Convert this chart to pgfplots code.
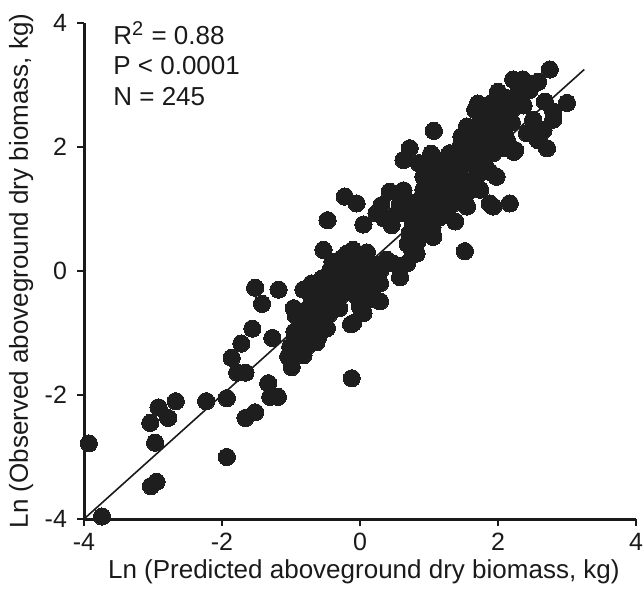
\documentclass[border=0pt]{standalone}
\usepackage{fontspec}
\setmainfont{Liberation Sans}
\usepackage{pgfplots}
\pgfplotsset{compat=1.18}
\usetikzlibrary{calc}
\definecolor{dot}{HTML}{1E1E1E}
\definecolor{ax}{HTML}{1A1A1A}
\begin{document}
\begin{tikzpicture}
\begin{axis}[
  scale only axis, width=276pt, height=248pt,
  xmin=-4, xmax=4, ymin=-4, ymax=4,
  clip=false,
  axis lines=left,
  axis line style={-, line width=1.5pt, color=ax},
  xtick={-4,-2,0,2,4}, ytick={-4,-2,0,2,4},
  xticklabels={-4,-2,0,2,4}, yticklabels={-4,-2,0,2,4},
  tick align=outside, major tick length=3.5pt,
  tick style={line width=1.3pt, color=ax},
  ticklabel style={font=\fontsize{12.5}{14}\selectfont, text=ax},
  yticklabel style={xshift=-1.5pt},
  label style={font=\fontsize{13}{15}\selectfont, text=ax},
  xlabel={Ln (Predicted aboveground dry biomass, kg)},
  ylabel={Ln (Observed aboveground dry biomass, kg)},
  xlabel style={at={(axis description cs:0.507,-0.1069)}, anchor=center},
  ylabel style={at={(axis description cs:-0.114,0.5)}, anchor=center},
]
\addplot[no marks, line width=0.8pt, color=ax] coordinates {(-4,-4) (3.25,3.25)};
\addplot[only marks, mark=*, mark size=4.3pt, color=dot, mark options={fill=dot, draw=dot, line width=0pt}] coordinates {
(-3.93,-2.78) (-3.74,-3.96) (-3.03,-3.47) (-2.95,-3.40) (-2.97,-2.77) (-3.04,-2.45)
(-2.92,-2.20) (-2.78,-2.37) (-2.67,-2.10) (-2.23,-2.10) (-1.93,-2.05) (-1.93,-3.00)
(-1.86,-1.40) (-1.72,-1.17) (-1.78,-1.64) (-1.66,-1.64) (-1.66,-2.37) (-1.52,-2.28)
(-1.56,-0.93) (-1.52,-0.27) (-1.42,-0.53) (-1.33,-1.81) (-1.30,-2.03) (-1.19,-2.03)
(-1.27,-1.08) (-1.18,-0.30)
(-1.04,-1.38) (-0.99,-1.55) (-1.01,-1.22) (-0.95,-0.98) (-0.93,-0.72) (-0.96,-0.60)
(-0.87,-1.27) (-0.82,-1.36) (-0.80,-1.06) (-0.82,-0.30) (-0.78,-0.63) (-0.74,-0.90)
(-0.72,-0.78) (-0.63,-1.15) (-0.63,-0.63) (-0.60,-1.06) (-0.58,-0.25) (-0.55,-0.12)
(-0.53,-0.52) (-0.51,-0.74) (-0.48,-0.92) (-0.46,-0.55) (-0.53,0.34) (-0.47,0.82)
(-0.43,0.02) (-0.43,-0.33) (-0.39,-0.52) (-0.34,-0.15) (-0.29,0.18) (-0.29,-0.41)
(-0.24,-0.09) (-0.22,1.20) (-0.19,0.28) (-0.19,-0.31) (-0.14,-0.28) (-0.13,-0.86)
(-0.12,-1.73) (-0.10,0.34) (-0.10,-0.84) (-0.05,1.09) (-0.05,-0.41) (0.00,-0.58)
(0.05,-0.68) (0.05,0.23) (0.05,0.75) (0.04,-0.38) (0.10,-0.09) (0.17,-0.25)
(0.24,0.93) (0.29,-0.20) (0.29,-0.49) (0.31,1.06) (0.30,0.02) (0.39,0.18)
(0.43,1.28) (0.46,0.74) (0.48,0.12) (0.58,-0.10) (0.58,1.09)
(0.63,1.30) (0.63,1.79) (0.63,0.93) (0.63,1.15) (0.68,0.12) (0.69,0.44)
(0.72,1.98) (0.72,0.61) (0.72,0.98) (0.77,0.77) (0.77,1.04) (0.82,0.28)
(0.83,0.47) (0.85,1.74) (0.92,1.52) (0.92,1.31) (0.96,0.82) (1.01,0.98)
(1.03,1.89) (1.06,1.85) (1.06,0.55) (1.07,2.26) (1.11,1.47) (1.11,1.26)
(1.16,1.04) (1.16,0.87) (1.23,1.76) (1.30,1.52) (1.30,1.31) (1.35,1.68)
(1.35,1.09) (1.38,0.80) (1.45,2.00) (1.47,2.17) (1.50,1.47) (1.52,0.32)
(1.55,2.33) (1.55,1.74) (1.55,1.26) (1.55,1.04) (1.64,2.09) (1.67,2.60)
(1.69,1.52) (1.71,2.70) (1.74,1.71) (1.74,1.31) (1.79,1.95) (1.86,2.23)
(1.88,2.60) (1.88,2.41) (1.88,1.60) (1.88,1.09) (1.93,1.90) (1.93,1.04)
(1.98,2.22) (1.98,1.52) (2.00,2.89) (2.06,1.98) (2.07,2.65) (2.13,2.11)
(2.17,1.09) (2.22,3.09) (2.23,1.92) (2.25,1.95) (2.27,2.70) (2.36,3.09)
(2.37,2.67) (2.42,2.22) (2.46,2.92) (2.51,2.44) (2.58,3.05) (2.58,2.11)
(2.66,2.27) (2.68,2.73) (2.71,1.98) (2.75,3.25) (2.80,2.57) (2.80,2.44)
(3.00,2.71)
(1.20,1.40) (1.40,1.60) (1.60,1.90) (1.70,2.00) (1.80,2.10) (2.00,2.40)
(2.10,2.50) (2.20,2.40) (2.30,2.90)
(2.10,2.80) (1.90,2.70) (1.80,2.40) (1.60,2.20) (1.40,1.90) (1.30,1.90)
(1.20,1.60) (1.00,1.60) (0.90,1.20) (0.80,1.10) (1.00,1.10) (1.20,1.20)
(1.40,1.30) (1.60,1.40) (1.80,1.80) (2.00,2.00) (2.10,2.20)
(2.20,2.60) (1.95,2.50) (1.70,2.35) (1.50,2.05)
(1.45,1.75) (1.25,1.00) (1.05,0.70) (0.90,0.60) (0.75,0.35)
(0.35,0.85) (0.55,0.95) (0.85,0.90) (0.95,1.40)
(-0.90,-1.10) (-0.85,-0.85) (-0.70,-0.50) (-0.65,-0.85) (-0.60,-0.40) (-0.45,-0.70)
(-0.35,-0.30) (-0.30,-0.60) (-0.25,0.05) (-0.20,-0.15) (-0.15,0.10) (-0.05,-0.10)
(0.00,0.15) (0.10,0.30) (0.15,-0.45) (0.20,0.10) (-0.40,0.15) (-0.70,-0.20)
(-0.80,-0.95) (-0.95,-1.30) (-0.75,-1.20) (-0.55,-0.95) (-0.35,-0.05) (0.00,-0.25)
(0.25,-0.10)
};
\node[anchor=west, font=\fontsize{13}{15}\selectfont, text=ax, inner sep=0pt] at (axis cs:-3.58,3.84) {R\textsuperscript{\fontsize{10}{10}\selectfont 2} = 0.88};
\node[anchor=west, font=\fontsize{13}{15}\selectfont, text=ax, inner sep=0pt] at (axis cs:-3.58,3.32) {P < 0.0001};
\node[anchor=west, font=\fontsize{13}{15}\selectfont, text=ax, inner sep=0pt] at (axis cs:-3.58,2.81) {N = 245};
\end{axis}
\pgfresetboundingbox
\path[use as bounding box] ($(current axis.south west)+(-42pt,-34.5pt)$) rectangle ($(current axis.north east)+(4pt,11.5pt)$);
\end{tikzpicture}
\end{document}
